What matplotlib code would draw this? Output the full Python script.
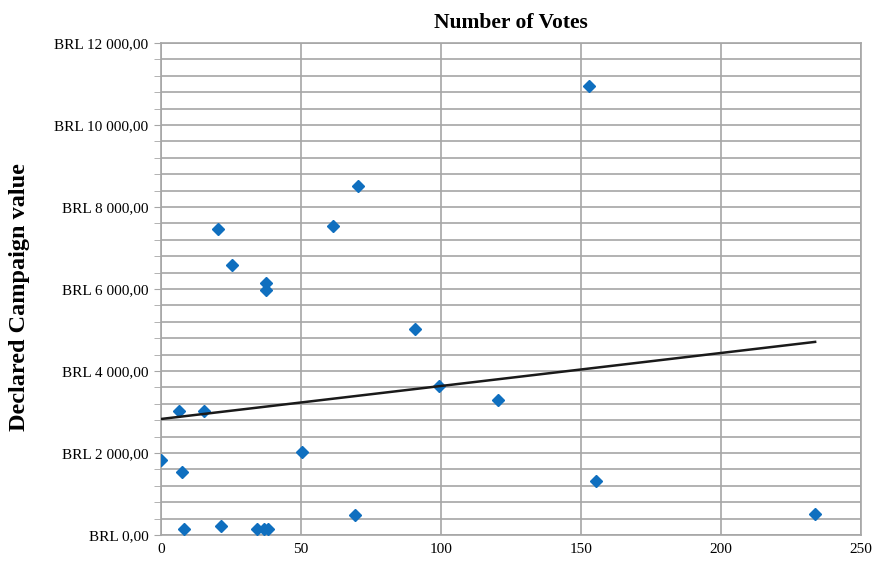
import numpy as np
from matplotlib import pyplot as plt
from matplotlib.ticker import MultipleLocator, FuncFormatter


#(0) Data:
votes    = [0, 6.4, 15.4, 7.5, 8.2, 21.4, 34.3, 36.8, 38.2, 50.4, 20.4, 25.4,
            37.5, 37.5, 61.4, 70.4, 90.7, 99.3, 120.4, 69.3, 152.9, 155.4, 233.6]
spend    = [1830, 3020, 3020, 1540, 150, 210, 150, 150, 150, 2020, 7460, 6590,
            6150, 5980, 7540, 8510, 5020, 3630, 3290, 480, 10950, 1310, 510]
trend_b0 = 2830    # trend line intercept as drawn
trend_b1 = 8.05    # trend line slope as drawn


#(1) Linear trend over the data range:
xt       = np.array([min(votes), max(votes)])
yt       = trend_b0 + trend_b1*xt


#(2) Plot:
plt.close('all')
plt.rcParams['font.family'] = ['Liberation Serif', 'DejaVu Serif']
fig      = plt.figure(figsize=(8.73,5.63), dpi=100)
ax       = fig.add_axes([0.1844, 0.0497, 0.8019, 0.8739])

gc       = '#a6a6a6'
ax.plot(votes, spend, 'D', ms=6, color='#0f6fbf', zorder=3)
ax.plot(xt, yt, color='#1a1a1a', lw=1.8, zorder=4)

ax.set_xlim(0, 250)
ax.set_ylim(0, 12000)
ax.xaxis.set_major_locator(MultipleLocator(50))
ax.yaxis.set_major_locator(MultipleLocator(2000))
ax.yaxis.set_minor_locator(MultipleLocator(400))
fmt      = lambda v,pos: 'BRL ' + '{:,.2f}'.format(v).replace(',', ' ').replace('.', ',')
ax.yaxis.set_major_formatter(FuncFormatter(fmt))

ax.grid(which='major', axis='x', color=gc, lw=1.2)
ax.grid(which='both', axis='y', color=gc, lw=1.2)
ax.set_axisbelow(True)
for s in ax.spines.values():
	s.set_color(gc); s.set_linewidth(1.2)
ax.tick_params(axis='y', which='both', length=5, color=gc, labelsize=11, pad=4)
ax.tick_params(axis='x', length=0, labelsize=11, pad=6)

ax.set_title('Number of Votes', size=15.5, weight='bold', pad=11)
fig.text(0.022, 0.472, 'Declared Campaign value', rotation=90, size=17.5, weight='bold',
         ha='center', va='center')

plt.savefig('out.png', dpi=100)
